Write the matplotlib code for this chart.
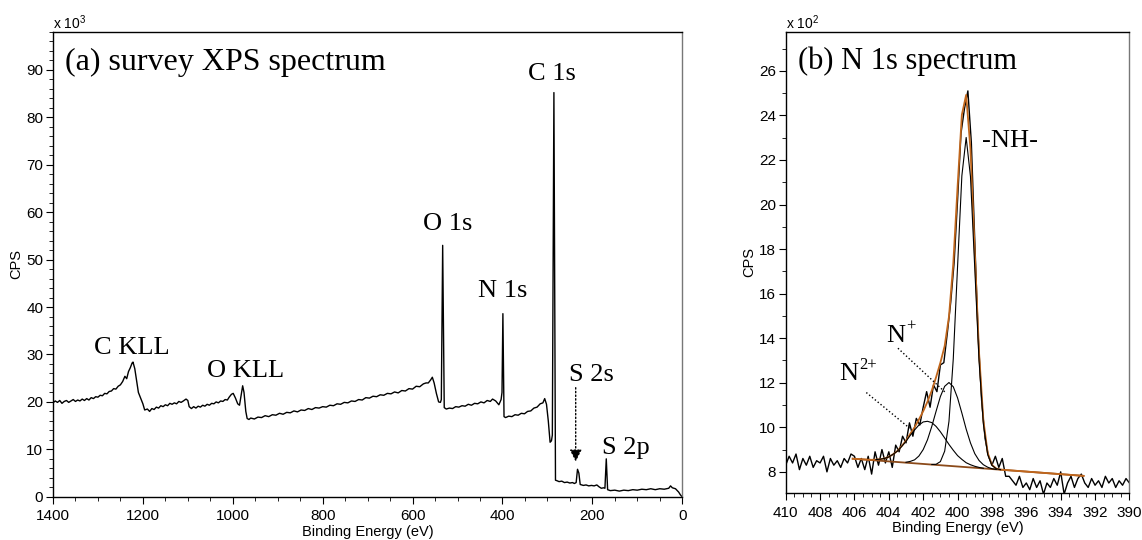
import matplotlib.pyplot as plt
from matplotlib.ticker import MultipleLocator

plt.rcParams['font.family'] = ['Liberation Sans', 'DejaVu Sans']
plt.rcParams['mathtext.default'] = 'regular'
SERIF = ['Liberation Serif', 'DejaVu Serif']

# ---- (a) survey spectrum: binding energy (eV) / counts (x10^3 CPS)
survey_be = [1400, 1395, 1390, 1385, 1380, 1375, 1370, 1365, 1360, 1355,
             1350, 1345, 1340, 1335, 1330, 1325, 1320, 1315, 1310, 1305,
             1300, 1295, 1290, 1285, 1280, 1275, 1270, 1265, 1260, 1255,
             1250, 1245, 1240, 1236, 1232, 1228, 1224, 1222, 1218, 1214,
             1210, 1205, 1200, 1196, 1190, 1185, 1180, 1175, 1170, 1165,
             1160, 1155, 1150, 1145, 1140, 1135, 1130, 1125, 1120, 1115,
             1110, 1104, 1100, 1097, 1092, 1087, 1082, 1077, 1072, 1067,
             1062, 1057, 1052, 1047, 1042, 1037, 1032, 1027, 1022, 1017,
             1012, 1008, 1003, 999, 994, 989, 985, 982, 978, 975,
             971, 968, 964, 960, 952, 944, 936, 928, 920, 912,
             904, 896, 888, 880, 872, 864, 856, 848, 840, 832,
             824, 816, 808, 800, 792, 784, 776, 768, 760, 752,
             744, 736, 728, 720, 712, 704, 696, 688, 680, 672,
             664, 656, 648, 640, 632, 624, 616, 608, 600, 592,
             584, 576, 570, 565, 560, 556, 552, 547, 542, 538,
             536, 533, 529.5, 525, 518, 511, 504, 497, 490, 483,
             476, 469, 462, 455, 448, 441, 434, 427, 422, 415,
             408, 403, 401, 399, 396.5, 393, 386, 379, 372, 365,
             358, 351, 344, 337, 330, 323, 316, 310, 306, 302,
             298, 294, 291, 289, 285.5, 282, 279, 274, 268, 262,
             256, 250, 244, 240, 236, 233, 230, 227, 220, 214,
             208, 202, 196, 190, 185, 180, 175, 172, 169, 166,
             160, 150, 140, 130, 120, 110, 100, 90, 80, 70,
             60, 50, 40, 30, 26, 22, 15, 8, 4, 0]
survey_cps = [19.8, 20.2, 19.9, 20.3, 19.7, 20.1, 20.3, 19.9, 20.2, 20.5,
              20.1, 20.4, 20.2, 20.6, 20.3, 20.7, 20.4, 20.9, 20.7, 21.1,
              21.0, 21.4, 21.3, 21.8, 21.7, 22.2, 22.3, 22.8, 22.7, 23.3,
              23.6, 24.3, 25.4, 24.9, 26.4, 27.2, 28.2, 28.4, 27.0, 24.5,
              22.0, 20.8, 19.6, 18.3, 18.5, 18.0, 18.6, 18.4, 18.9, 18.7,
              19.2, 19.0, 19.4, 19.2, 19.7, 19.5, 19.8, 19.6, 20.1, 19.9,
              20.2, 20.6, 20.3, 19.0, 18.6, 19.0, 18.7, 19.1, 18.9, 19.3,
              19.1, 19.5, 19.3, 19.7, 19.6, 20.0, 19.8, 20.2, 20.1, 20.5,
              20.4, 21.0, 21.6, 21.8, 20.8, 19.6, 19.3, 21.0, 23.4, 22.0,
              18.0, 16.5, 16.3, 16.6, 16.4, 16.8, 16.7, 17.1, 16.9, 17.3,
              17.2, 17.6, 17.4, 17.8, 17.7, 18.1, 17.9, 18.3, 18.2, 18.6,
              18.4, 18.8, 18.7, 19.0, 18.9, 19.3, 19.2, 19.6, 19.5, 19.9,
              19.8, 20.2, 20.1, 20.5, 20.4, 20.9, 20.8, 21.2, 21.1, 21.5,
              21.4, 21.8, 21.7, 22.1, 21.9, 22.4, 22.3, 22.8, 22.7, 23.3,
              23.2, 23.8, 24.0, 24.0, 24.6, 25.2, 24.0, 21.8, 20.0, 19.9,
              20.5, 53.0, 18.8, 18.5, 18.7, 18.6, 19.0, 18.9, 19.2, 19.1,
              19.5, 19.3, 19.7, 19.6, 20.0, 19.8, 20.3, 20.1, 20.6, 20.2,
              19.4, 20.5, 22.0, 38.6, 16.9, 16.7, 17.0, 16.9, 17.3, 17.2,
              17.6, 17.5, 18.0, 18.1, 18.7, 18.9, 19.6, 19.8, 20.7, 19.5,
              16.0, 11.5, 11.8, 13.0, 85.2, 3.5, 3.4, 3.2, 3.3, 3.0,
              3.1, 2.9, 3.0, 2.8, 3.0, 5.8, 5.0, 2.6, 2.4, 2.5,
              2.3, 2.4, 2.3, 2.5, 2.1, 1.8, 1.9, 1.8, 8.0, 1.5,
              1.3, 1.4, 1.2, 1.4, 1.3, 1.5, 1.4, 1.6, 1.5, 1.7,
              1.5, 1.7, 1.6, 1.8, 2.3, 1.9, 1.7, 1.0, 0.4, 0.0]

# ---- (b) N 1s high resolution: raw data (x10^2 CPS)
n1s_be = [410.0, 409.8, 409.6, 409.4, 409.2, 409.0, 408.8, 408.6, 408.4, 408.2, 408.0,
          407.8, 407.6, 407.4, 407.2, 407.0, 406.8, 406.6, 406.4, 406.2, 406.0, 405.8,
          405.6, 405.4, 405.2, 405.0, 404.8, 404.6, 404.4, 404.2, 404.0, 403.8, 403.6,
          403.4, 403.2, 403.0, 402.8, 402.6, 402.4, 402.2, 402.0, 401.8, 401.6, 401.4,
          401.2, 401.0, 400.8, 400.6, 400.4, 400.2, 400.0, 399.8, 399.6, 399.4, 399.2,
          399.0, 398.8, 398.6, 398.4, 398.2, 398.0, 397.8, 397.6, 397.4, 397.2, 397.0,
          396.8, 396.6, 396.4, 396.2, 396.0, 395.8, 395.6, 395.4, 395.2, 395.0, 394.8,
          394.6, 394.4, 394.2, 394.0, 393.8, 393.6, 393.4, 393.2, 393.0, 392.8, 392.6,
          392.4, 392.2, 392.0, 391.8, 391.6, 391.4, 391.2, 391.0, 390.8, 390.6, 390.4,
          390.2, 390.0]
n1s_cps = [8.3, 8.7, 8.4, 8.8, 8.1, 8.6, 8.3, 8.7, 8.2, 8.5, 8.4, 8.7, 8.0, 8.6, 8.3,
           8.5, 8.2, 8.6, 8.4, 8.8, 8.7, 8.2, 8.6, 8.1, 8.7, 7.9, 8.9, 8.3, 9.0, 8.4,
           8.9, 8.2, 9.2, 8.9, 9.6, 9.3, 10.2, 9.6, 10.4, 10.1, 10.9, 11.6, 10.9, 11.9,
           11.6, 12.8, 12.9, 14.2, 15.6, 17.4, 20.2, 23.2, 24.3, 25.1, 22.8, 18.4, 14.1,
           11.2, 9.5, 8.7, 8.3, 8.7, 8.2, 8.6, 7.8, 7.8, 7.6, 7.4, 7.8, 7.3, 7.5, 7.2,
           7.7, 7.3, 7.6, 7.0, 7.5, 7.3, 7.7, 7.4, 8.0, 7.0, 7.5, 7.8, 7.3, 7.7, 7.9,
           7.5, 7.3, 7.7, 7.4, 7.6, 7.3, 7.8, 7.5, 7.7, 7.3, 7.6, 7.4, 7.7, 7.5]

# fitted envelope
env_be = [406.1, 405.5, 405.0, 404.75, 404.5, 404.25, 404.0, 403.75, 403.5, 403.25,
          403.0, 402.75, 402.5, 402.25, 402.0, 401.75, 401.5, 401.25, 401.0, 400.75,
          400.5, 400.25, 400.0, 399.75, 399.5, 399.25, 399.0, 398.75, 398.5, 398.25,
          398.0, 397.75, 397.5, 392.67]
env_cps = [8.59, 8.56, 8.54, 8.55, 8.57, 8.60, 8.67, 8.79, 8.94, 9.16, 9.40, 9.71,
           10.00, 10.35, 10.72, 11.15, 11.65, 12.25, 12.90, 13.65, 14.97, 17.34, 20.79,
           24.03, 24.92, 22.48, 17.87, 13.35, 10.32, 8.86, 8.31, 8.15, 8.10, 7.82]

# linear background
bg_be = [406.1, 392.67]
bg_cps = [8.59, 7.82]

# fitted components
nh_be = [401.5, 401.25, 401.0, 400.75, 400.5, 400.25, 400.0, 399.75, 399.5, 399.25,
         399.0, 398.75, 398.5, 398.25, 398.0, 397.75, 397.5]
nh_cps = [8.33, 8.34, 8.46, 8.93, 10.27, 13.07, 17.22, 21.29, 23.01, 21.26, 17.16,
          12.98, 10.16, 8.79, 8.29, 8.14, 8.10]
np_be = [403.0, 402.75, 402.5, 402.25, 402.0, 401.75, 401.5, 401.25, 401.0, 400.75,
         400.5, 400.25, 400.0, 399.75, 399.5, 399.25, 399.0, 398.75, 398.5, 398.25,
         398.0, 397.75]
np_cps = [8.43, 8.47, 8.54, 8.71, 9.00, 9.44, 10.04, 10.72, 11.38, 11.84, 12.01, 11.82,
          11.32, 10.64, 9.92, 9.30, 8.82, 8.51, 8.32, 8.21, 8.14, 8.11]
n2p_be = [404.75, 404.5, 404.25, 404.0, 403.75, 403.5, 403.25, 403.0, 402.75, 402.5,
          402.25, 402.0, 401.75, 401.5, 401.25, 401.0, 400.75, 400.5, 400.25, 400.0,
          399.75, 399.5, 399.25, 399.0, 398.75, 398.5]
n2p_cps = [8.55, 8.57, 8.60, 8.67, 8.79, 8.93, 9.14, 9.37, 9.64, 9.88, 10.10, 10.24,
           10.27, 10.21, 10.04, 9.80, 9.52, 9.23, 8.97, 8.73, 8.56, 8.41, 8.32, 8.25,
           8.20, 8.16]

fig = plt.figure(figsize=(11.42, 5.4), dpi=100)
ax1 = fig.add_axes([0.0464, 0.080, 0.551, 0.861])
ax2 = fig.add_axes([0.688, 0.087, 0.301, 0.854])


def style_axes(ax):
    for side in ['left', 'bottom', 'top']:
        ax.spines[side].set_color('black')
        ax.spines[side].set_linewidth(1.0)
    ax.spines['right'].set_color('#777777')
    ax.spines['right'].set_linewidth(1.0)
    ax.tick_params(which='major', direction='out', length=5, width=0.8, labelsize=11, pad=2)
    ax.tick_params(which='minor', direction='out', length=3, width=0.6)
    ax.tick_params(axis='x', which='major', pad=4)
    ax.set_ylabel('CPS', fontsize=10.5, labelpad=2)
    ax.set_xlabel('Binding Energy (eV)', fontsize=10.5, labelpad=1)


def ion_label(ax, x, y, charge):
    ax.text(x, y, 'N', family=SERIF, fontsize=19, ha='left', va='baseline')
    ax.annotate(charge, xy=(x, y), xytext=(14, 8), textcoords='offset points',
                family=SERIF, fontsize=12, ha='left', va='baseline')


# (a)
ax1.plot(survey_be, survey_cps, color='black', lw=1.0)
ax1.set_xlim(1400, 0)
ax1.set_ylim(0, 98)
ax1.xaxis.set_major_locator(MultipleLocator(200))
ax1.xaxis.set_minor_locator(MultipleLocator(50))
ax1.yaxis.set_major_locator(MultipleLocator(10))
ax1.yaxis.set_minor_locator(MultipleLocator(2))
style_axes(ax1)
ax1.text(0.0, 1.0, r'x 10$^3$', transform=ax1.transAxes, fontsize=10, va='bottom', ha='left')
ax1.text(0.019, 0.965, '(a) survey XPS spectrum', transform=ax1.transAxes,
         family=SERIF, fontsize=23, va='top', ha='left')
ax1.text(291, 87.9, 'C 1s', family=SERIF, fontsize=19, ha='center', va='baseline')
ax1.text(522, 56.2, 'O 1s', family=SERIF, fontsize=19, ha='center', va='baseline')
ax1.text(400, 42.1, 'N 1s', family=SERIF, fontsize=19, ha='center', va='baseline')
ax1.text(1224, 30.0, 'C KLL', family=SERIF, fontsize=19, ha='center', va='baseline')
ax1.text(972, 25.2, 'O KLL', family=SERIF, fontsize=19, ha='center', va='baseline')
ax1.text(201, 24.5, 'S 2s', family=SERIF, fontsize=19, ha='center', va='baseline')
ax1.text(126, 9.1, 'S 2p', family=SERIF, fontsize=19, ha='center', va='baseline')
ax1.annotate('', xy=(237, 7.4), xytext=(237, 23.0),
             arrowprops=dict(arrowstyle='-|>,head_length=0.6,head_width=0.3', linestyle=':',
                             color='black', lw=1.0, mutation_scale=12, shrinkA=0, shrinkB=0))

# (b)
ax2.plot(n1s_be, n1s_cps, color='black', lw=1.0)
ax2.plot(bg_be, bg_cps, color='#8b4a1a', lw=1.3)
ax2.plot(env_be, env_cps, color='#c0661c', lw=1.3)
ax2.plot(nh_be, nh_cps, color='black', lw=0.8)
ax2.plot(np_be, np_cps, color='black', lw=0.8)
ax2.plot(n2p_be, n2p_cps, color='black', lw=0.8)
ax2.set_xlim(410, 390)
ax2.set_ylim(7.05, 27.75)
ax2.xaxis.set_major_locator(MultipleLocator(2))
ax2.xaxis.set_minor_locator(MultipleLocator(0.5))
ax2.yaxis.set_minor_locator(MultipleLocator(1))
ax2.set_yticks([8, 10, 12, 14, 16, 18, 20, 22, 24, 26])
style_axes(ax2)
ax2.text(0.0, 1.0, r'x 10$^2$', transform=ax2.transAxes, fontsize=10, va='bottom', ha='left')
ax2.text(409.3, 26.1, '(b) N 1s spectrum', family=SERIF, fontsize=22, ha='left', va='baseline')
ax2.text(398.55, 22.6, '-NH-', family=SERIF, fontsize=19, ha='left', va='baseline')
ion_label(ax2, 404.13, 13.85, '+')
ion_label(ax2, 406.86, 12.13, '2+')
ax2.plot([403.47, 400.66], [13.55, 11.53], color='black', lw=1.0, ls=':')
ax2.plot([405.31, 402.79], [11.56, 9.96], color='black', lw=1.0, ls=':')

fig.savefig('out.png', dpi=100)
